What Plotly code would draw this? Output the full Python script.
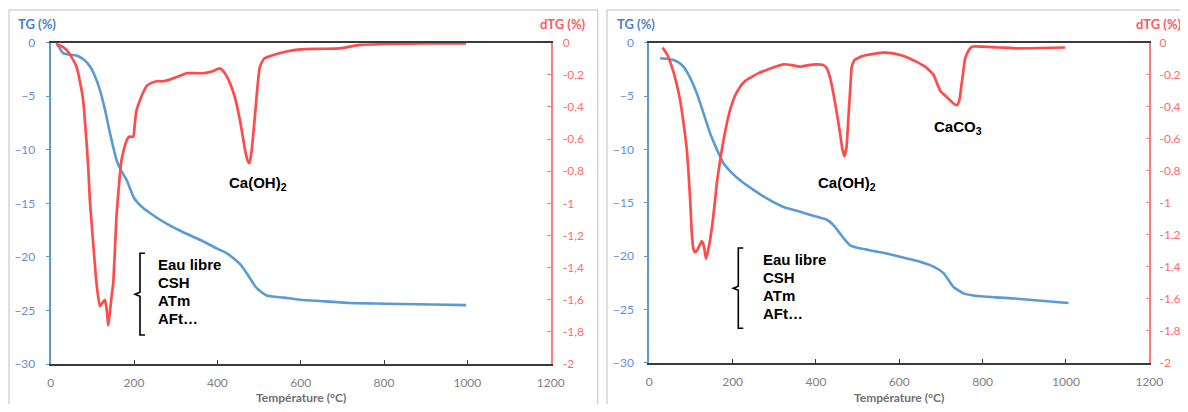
import plotly.graph_objects as go

# the html body has a default 8px margin: the figure starts at (8, 8) in the page
OFF = 8
W, H = 1188 - OFF, 412 - 2 * OFF

# ---------------- data ----------------
temp_tg_a = [14, 30, 45, 62, 80, 94, 106, 118, 130, 142, 158, 170, 182, 200, 218, 238, 278, 318, 358,
             398, 420, 438, 455, 470, 494, 518, 560, 598, 658, 718, 778, 838, 918, 997]
tg_a = [0, -1.0, -1.1, -1.2, -1.6, -2.2, -3.1, -4.4, -6.2, -8.4, -10.95, -12.0, -12.8, -14.5, -15.3,
        -15.9, -16.9, -17.7, -18.4, -19.2, -19.6, -20.1, -20.7, -21.5, -22.9, -23.6, -23.8, -24.0,
        -24.15, -24.3, -24.35, -24.4, -24.45, -24.5]

temp_dtg_a = [14, 25, 38, 50, 62, 70, 78, 84, 90, 94, 102, 110, 118, 124, 130, 134, 138, 142, 146, 150,
              158, 164, 170, 176, 182, 186, 190, 198, 202, 206, 214, 222, 230, 242, 254, 270, 286, 306,
              326, 346, 366, 386, 406, 418, 430, 442, 454, 466, 472, 477, 482, 490, 496, 502, 512, 534,
              566, 598, 646, 694, 742, 800, 900, 997]
dtg_a = [-0.014, -0.02, -0.045, -0.09, -0.15, -0.24, -0.36, -0.55, -0.77, -0.98, -1.25, -1.50, -1.64,
         -1.62, -1.60, -1.65, -1.76, -1.68, -1.58, -1.50, -1.08, -0.88, -0.73, -0.66, -0.61, -0.59,
         -0.585, -0.585, -0.5, -0.42, -0.36, -0.31, -0.27, -0.25, -0.24, -0.24, -0.23, -0.21, -0.19,
         -0.19, -0.19, -0.18, -0.16, -0.19, -0.25, -0.34, -0.48, -0.66, -0.73, -0.75, -0.68, -0.46,
         -0.28, -0.15, -0.10, -0.077, -0.055, -0.041, -0.038, -0.035, -0.014, -0.008, -0.005, -0.004]

temp_tg_b = [26, 42, 58, 70, 82, 98, 114, 130, 146, 162, 178, 198, 218, 250, 282, 322, 362, 400, 426,
             442, 458, 470, 482, 502, 522, 562, 602, 642, 682, 706, 730, 754, 778, 802, 842, 882, 940, 1006]
tg_b = [-1.46, -1.5, -1.62, -1.85, -2.25, -3.3, -4.74, -6.6, -8.5, -10.0, -11.3, -12.2, -12.9, -13.8,
        -14.6, -15.4, -15.85, -16.3, -16.6, -17.1, -17.9, -18.5, -19.0, -19.25, -19.4, -19.7, -20.06,
        -20.45, -21.0, -21.6, -22.9, -23.5, -23.7, -23.8, -23.9, -24.0, -24.2, -24.4]

temp_dtg_b = [32, 44, 54, 64, 74, 82, 90, 98, 102, 106, 110, 114, 120, 126, 131, 136, 141, 146, 152, 158,
              162, 168, 174, 184, 194, 206, 218, 230, 242, 262, 282, 302, 322, 342, 362, 382, 402, 418,
              426, 434, 442, 450, 458, 463, 468, 473, 478, 482, 486, 492, 498, 510, 522, 542, 562, 582,
              602, 622, 642, 662, 682, 690, 698, 710, 722, 730, 738, 744, 750, 754, 758, 766, 774, 802,
              842, 882, 940, 998]
dtg_b = [-0.03, -0.08, -0.15, -0.24, -0.36, -0.5, -0.67, -0.98, -1.19, -1.29, -1.31, -1.30, -1.27, -1.24,
         -1.27, -1.35, -1.30, -1.23, -1.12, -0.98, -0.88, -0.77, -0.67, -0.53, -0.42, -0.33, -0.275,
         -0.24, -0.22, -0.19, -0.17, -0.15, -0.135, -0.14, -0.15, -0.14, -0.135, -0.14, -0.16, -0.22,
         -0.32, -0.44, -0.57, -0.66, -0.71, -0.66, -0.46, -0.3, -0.15, -0.11, -0.10, -0.085, -0.077,
         -0.068, -0.062, -0.065, -0.077, -0.095, -0.12, -0.15, -0.20, -0.25, -0.30, -0.33, -0.36, -0.38,
         -0.39, -0.36, -0.25, -0.17, -0.10, -0.05, -0.025, -0.025, -0.03, -0.035, -0.033, -0.03]

x_ticks = [0, 200, 400, 600, 800, 1000, 1200]
tg_ticks = [0, -5, -10, -15, -20, -25, -30]
dtg_ticks = [0, -0.2, -0.4, -0.6, -0.8, -1, -1.2, -1.4, -1.6, -1.8, -2]
dtg_ticktext = ["0", "-0,2", "-0,4", "-0,6", "-0,8", "-1", "-1,2", "-1,4", "-1,6", "-1,8", "-2"]

x_title = "Température (°C)"
tg_title = "TG (%)"
dtg_title = "dTG (%)"
species_label = ["Eau libre", "CSH", "ATm", "AFt…"]

# ---------------- styles ----------------
BLUE = "#5B9BD5"
BLUE_TXT = "#5f8fd4"
RED = "#FF4B4B"
RED_TXT = "#ff6b6b"
GRAY_TXT = "#7f7f7f"
TICK_FONT = "Lato"
ANN_FONT = "Liberation Sans"


def px(x):
    return (x - OFF) / W


def py(y):
    return 1 - (y - OFF) / H


fig = go.Figure()

panels = [
    dict(tg=(temp_tg_a, tg_a), dtg=(temp_dtg_a, dtg_a), x0=50.7, x1=550.7, ytop=42.7, ybot=364.0,
         xa="x", ya="y", ya2="y2", standoff=8),
    dict(tg=(temp_tg_b, tg_b), dtg=(temp_dtg_b, dtg_b), x0=649.3, x1=1149.3, ytop=42.7, ybot=362.7,
         xa="x2", ya="y3", ya2="y4", standoff=6),
]

for p in panels:
    fig.add_trace(go.Scatter(x=p["tg"][0], y=p["tg"][1], mode="lines",
                             line=dict(color=BLUE, width=2.6, shape="spline", smoothing=0.5),
                             xaxis=p["xa"], yaxis=p["ya"], showlegend=False))
    fig.add_trace(go.Scatter(x=p["dtg"][0], y=p["dtg"][1], mode="lines",
                             line=dict(color=RED, width=2.7, shape="spline", smoothing=0.5),
                             xaxis=p["xa"], yaxis=p["ya2"], showlegend=False))

layout = dict(width=W, height=H, margin=dict(l=0, r=0, t=0, b=0, autoexpand=False),
              paper_bgcolor="white", plot_bgcolor="white", showlegend=False)

for i, p in enumerate(panels):
    xk = "xaxis" if i == 0 else "xaxis2"
    yk = "yaxis" if i == 0 else "yaxis3"
    y2k = "yaxis2" if i == 0 else "yaxis4"
    layout[xk] = dict(domain=[px(p["x0"]), px(p["x1"])], range=[0, 1200], tickvals=x_ticks,
                      showgrid=False, zeroline=False, showline=True, linecolor="#3a3a3a",
                      linewidth=1.5, mirror=True, ticks="inside", ticklen=4, tickcolor="#3a3a3a",
                      tickfont=dict(family=TICK_FONT, size=12, color=GRAY_TXT),
                      anchor=p["ya"], ticklabelstandoff=7, automargin=False)
    layout[yk] = dict(domain=[py(p["ybot"]), py(p["ytop"])], range=[-30, 0], tickvals=tg_ticks,
                      showgrid=False, zeroline=False, showline=True, linecolor=BLUE, linewidth=2,
                      ticks="outside", ticklen=3, tickcolor=BLUE,
                      tickfont=dict(family=TICK_FONT, size=12, color=BLUE_TXT),
                      anchor=p["xa"], ticklabelstandoff=8, automargin=False)
    layout[y2k] = dict(range=[-2, 0], tickvals=dtg_ticks, ticktext=dtg_ticktext,
                       overlaying=p["ya"], side="right", anchor=p["xa"],
                       showgrid=False, zeroline=False, showline=True, linecolor="#ff7a7a",
                       linewidth=1.5, ticks="inside", ticklen=4, tickcolor="#ff7a7a",
                       tickfont=dict(family=TICK_FONT, size=12, color=RED_TXT),
                       ticklabelstandoff=p["standoff"], automargin=False)

fig.update_layout(**layout)

# ---------------- panel frames ----------------
shapes = [
    dict(type="rect", xref="paper", yref="paper", x0=px(9), x1=px(597.7), y0=py(430), y1=py(10),
         line=dict(color="#d4d4d4", width=1.5), fillcolor="rgba(0,0,0,0)", layer="below"),
    dict(type="rect", xref="paper", yref="paper", x0=px(607), x1=px(1200), y0=py(430), y1=py(10),
         line=dict(color="#d4d4d4", width=1.5), fillcolor="rgba(0,0,0,0)", layer="below"),
]

# brackets
brackets = [(140.0, 253.3, 335.0, 294.3), (738.3, 248.0, 328.3, 288.3)]
for bx, btop, bbot, bmid in brackets:
    path = (f"M {px(bx + 5)},{py(btop)} L {px(bx)},{py(btop)} L {px(bx)},{py(bmid - 2)} "
            f"L {px(bx - 5)},{py(bmid)} L {px(bx)},{py(bmid + 2)} L {px(bx)},{py(bbot)} "
            f"L {px(bx + 5)},{py(bbot)}")
    shapes.append(dict(type="path", xref="paper", yref="paper", path=path,
                       line=dict(color="black", width=1.6)))
fig.update_layout(shapes=shapes)

# ---------------- annotations ----------------
ann = []


def text(x, y, s, size=15, color="black", family=ANN_FONT, xanchor="center", bold=True):
    ann.append(dict(x=px(x), y=py(y), xref="paper", yref="paper", text=(f"<b>{s}</b>" if bold else s),
                    showarrow=False, xanchor=xanchor, yanchor="middle",
                    font=dict(family=family, size=size, color=color)))


# axis titles
text(37, 24, tg_title, size=13, color="#4a7fcc", family=TICK_FONT)
text(636, 24, tg_title, size=13, color="#4a7fcc", family=TICK_FONT)
text(563, 24, dtg_title, size=13, color="#ff5a5a", family=TICK_FONT)
text(1159, 24, dtg_title, size=13, color="#ff5a5a", family=TICK_FONT)
text(300.7, 397.5, x_title, size=12, color="#6f6f6f", family=TICK_FONT)
text(899.3, 397.5, x_title, size=12, color="#6f6f6f", family=TICK_FONT)

# peak labels
text(258, 183, "Ca(OH)<sub>2</sub>")
text(847, 183, "Ca(OH)<sub>2</sub>")
text(958, 127, "CaCO<sub>3</sub>")

# species list
for j, s in enumerate(species_label):
    text(156, 264 + 18.3 * j, s, xanchor="left")
    text(761, 259 + 18.3 * j, s, xanchor="left")

fig.update_layout(annotations=ann)

fig.write_html("out.html")
